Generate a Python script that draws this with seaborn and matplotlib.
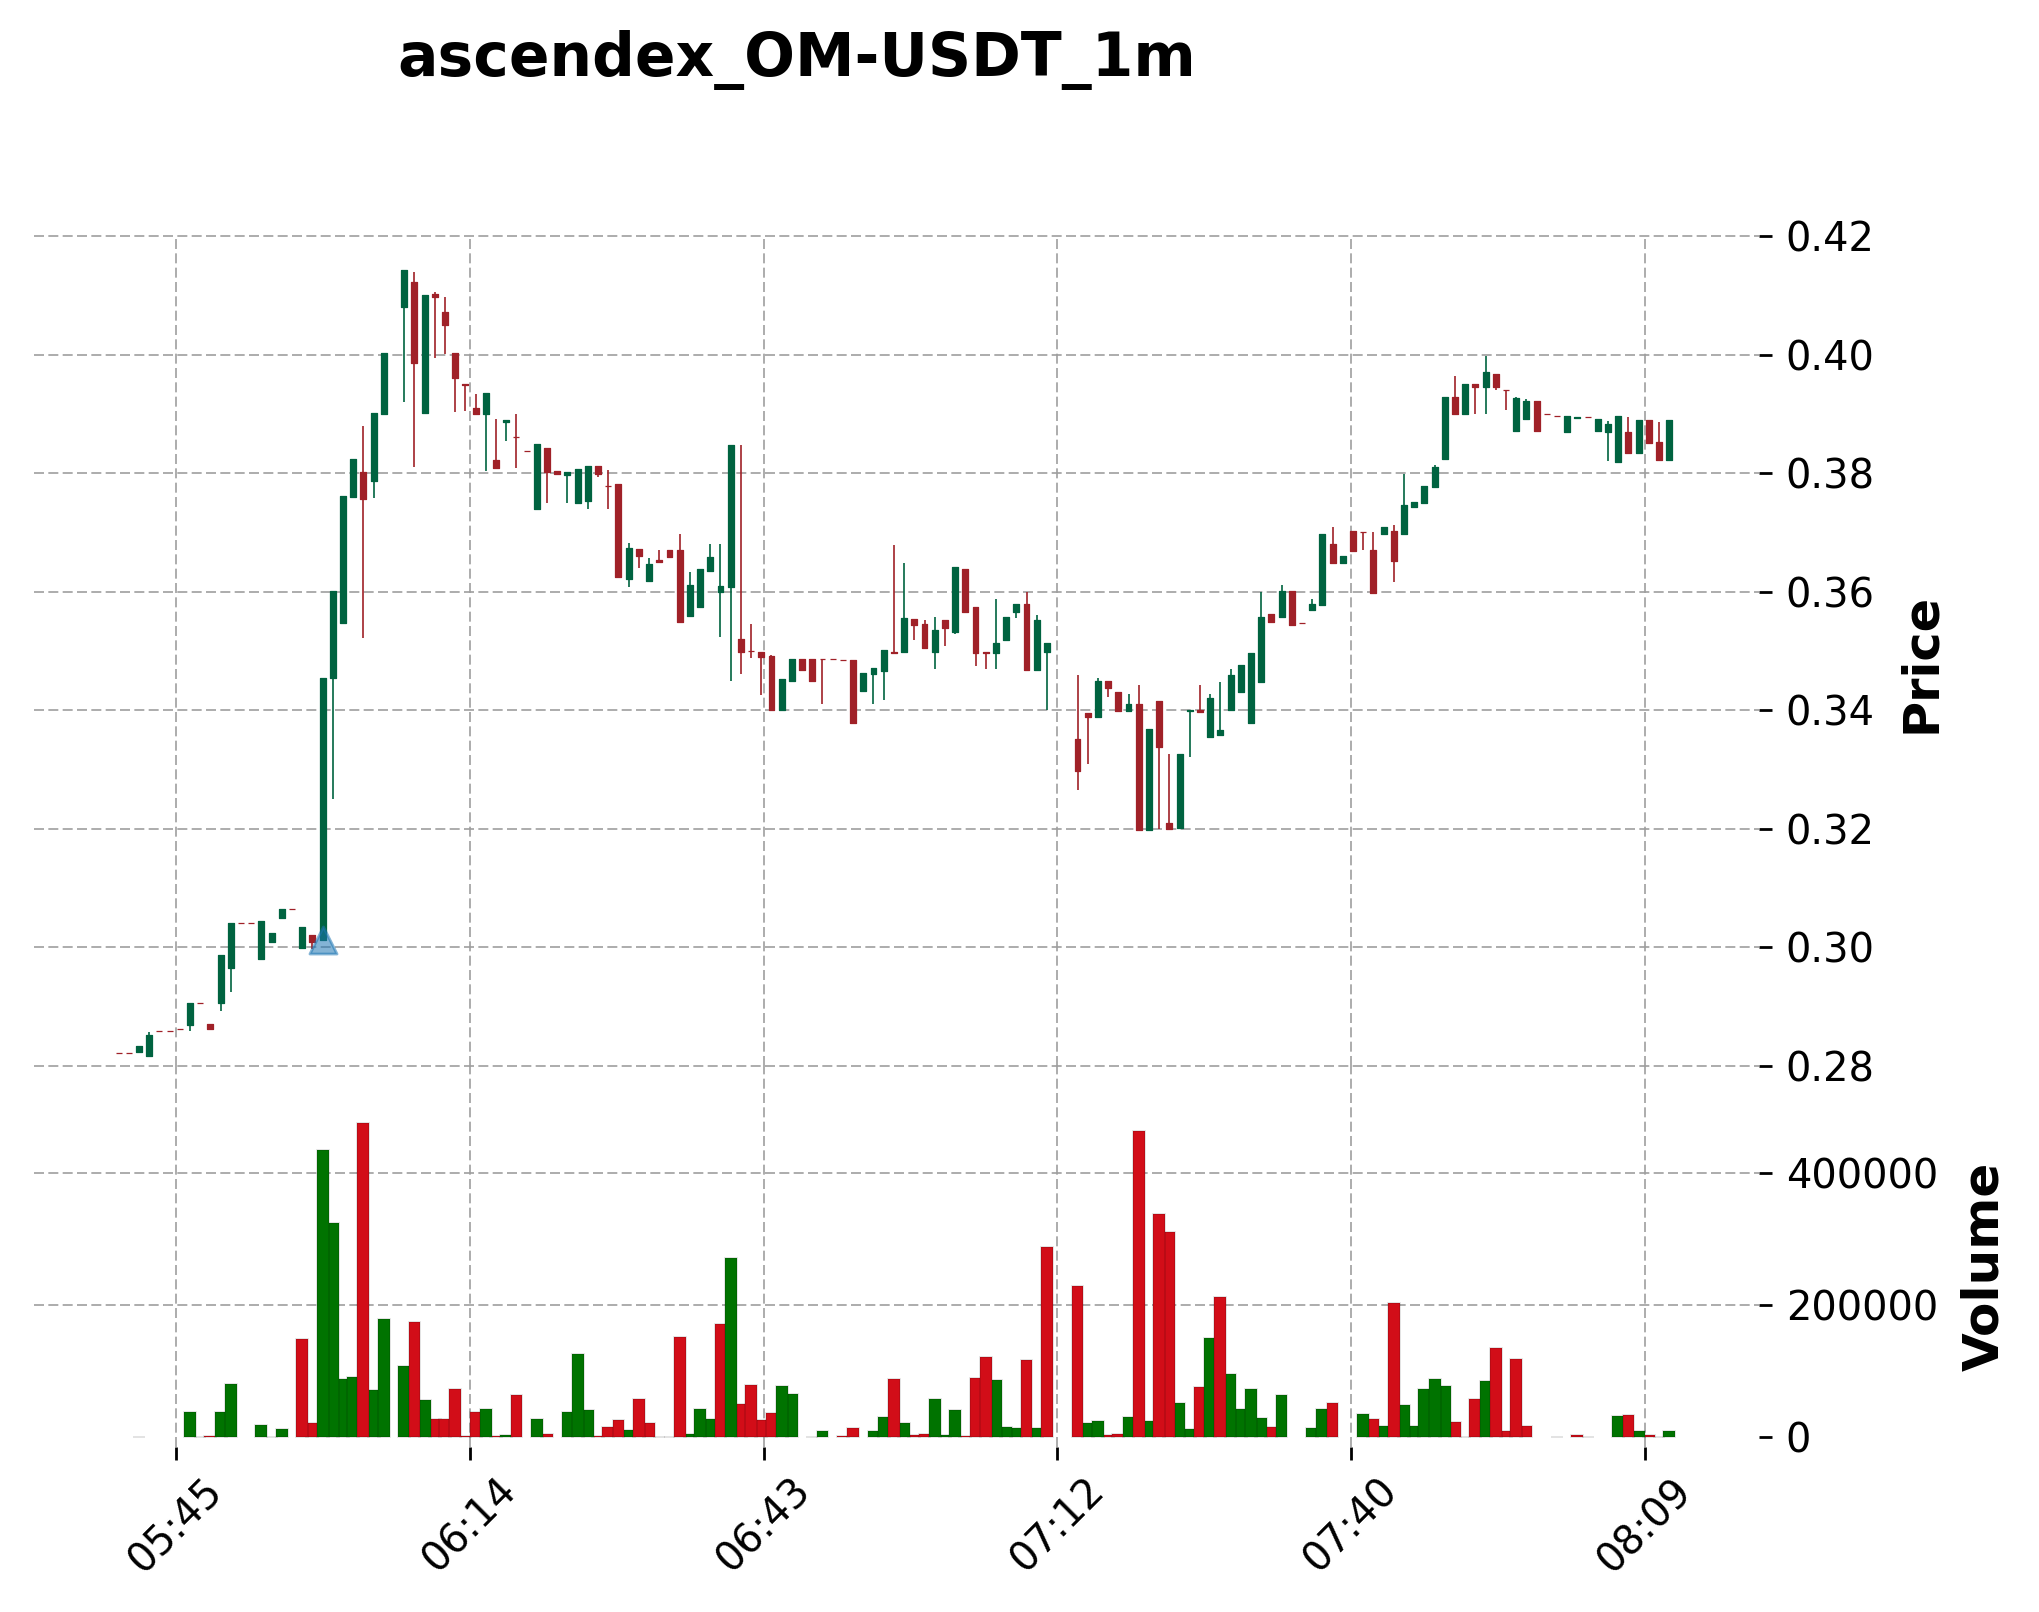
import numpy as np
import pandas as pd
import matplotlib
matplotlib.use("Agg")
import matplotlib.pyplot as plt
import seaborn as sns

# --- data, one slot per minute, nan where nothing traded ---
nan = float("nan")

opens = [
    .2822, .2822, .2824, .2817, .2859, .2859, .2862, .2870, .2907, .2871,
    .2907, .2965, .3041, .3041, .2981, .3009, .3049, .3065, .2999, .3021,
    .3012, .3454, .3548, .3760, .3802, .3786, .3900, nan, .4080, .4122,
    .3902, .4103, .4072, .4002, .3951, .3910, .3900, .3822, .3887, .3861,
    .3838, .3739, .3843, .3804, .3797, .3749, .3753, .3812, .3779, .3781,
    .3621, .3672, .3618, .3654, .3671, .3671, .3559, .3574, .3635, .3599,
    .3608, .3521, .3500, .3499, .3492, .3401, .3449, .3487, .3487, .3487,
    .3487, .3485, .3485, .3433, .3461, .3466, .3499, .3498, .3554, .3546,
    .3499, .3552, .3532, .3638, .3575, .3499, .3497, .3519, .3565, .3580,
    .3468, .3499, nan, nan, .3352, .3396, .3389, .3450, .3430, .3399,
    .3410, .3198, .3416, .3210, .3201, .3398, .3400, .3355, .3358, .3401,
    .3431, .3379, .3448, .3563, .3558, .3601, .3548, .3570, .3577, .3680,
    .3649, .3702, .3701, .3671, .3698, .3702, .3698, .3743, .3750, .3777,
    .3824, .3929, .3900, .3950, .3946, .3968, .3941, .3871, .3892, .3921,
    .3900, .3897, .3870, .3893, .3894, .3871, .3870, .3819, .3870, .3834,
    .3889, .3852, .3823,
]
closes = [
    .2822, .2822, .2834, .2853, .2859, .2859, .2862, .2907, .2907, .2863,
    .2987, .3041, .3041, .3041, .3045, .3025, .3065, .3065, .3035, .3009,
    .3455, .3601, .3761, .3824, .3756, .3901, .4002, nan, .4142, .3986,
    .4101, .4097, .4050, .3960, .3949, .3900, .3935, .3808, .3889, .3861,
    .3838, .3849, .3802, .3799, .3802, .3807, .3812, .3798, .3779, .3625,
    .3674, .3660, .3647, .3650, .3658, .3549, .3612, .3639, .3659, .3610,
    .3848, .3498, .3500, .3490, .3401, .3452, .3487, .3468, .3449, .3487,
    .3487, .3485, .3379, .3463, .3472, .3501, .3497, .3556, .3544, .3505,
    .3535, .3539, .3641, .3566, .3497, .3497, .3514, .3557, .3580, .3468,
    .3552, .3513, nan, nan, .3297, .3389, .3450, .3438, .3399, .3410,
    .3198, .3369, .3338, .3200, .3327, .3400, .3397, .3420, .3367, .3460,
    .3477, .3496, .3557, .3549, .3601, .3544, .3548, .3579, .3698, .3649,
    .3661, .3669, .3701, .3598, .3710, .3651, .3747, .3751, .3779, .3811,
    .3929, .3900, .3950, .3946, .3971, .3946, .3941, .3927, .3921, .3871,
    .3900, .3897, .3896, .3894, .3894, .3891, .3883, .3896, .3834, .3889,
    .3850, .3823, .3889,
]
highs = [
    .2822, .2822, .2834, .2858, .2859, .2859, .2862, .2907, .2907, .2871,
    .2987, .3041, .3041, .3041, .3045, .3025, .3065, .3065, .3035, .3021,
    .3455, .3601, .3761, .3824, .3880, .3901, .4002, nan, .4142, .4140,
    .4101, .4106, .4097, .4002, .3951, .3933, .3935, .3892, .3889, .3900,
    .3838, .3849, .3843, .3804, .3802, .3807, .3812, .3812, .3806, .3781,
    .3683, .3672, .3657, .3671, .3671, .3698, .3634, .3639, .3681, .3681,
    .3848, .3847, .3546, .3499, .3494, .3452, .3487, .3487, .3487, .3487,
    .3487, .3485, .3485, .3463, .3472, .3501, .3678, .3649, .3554, .3553,
    .3558, .3552, .3641, .3638, .3575, .3499, .3588, .3557, .3580, .3599,
    .3560, .3513, nan, nan, .3459, .3396, .3455, .3450, .3430, .3428,
    .3442, .3369, .3416, .3327, .3327, .3400, .3442, .3428, .3448, .3470,
    .3477, .3496, .3599, .3563, .3611, .3601, .3548, .3587, .3698, .3710,
    .3661, .3702, .3701, .3701, .3710, .3712, .3798, .3751, .3779, .3813,
    .3929, .3964, .3950, .3950, .3997, .3968, .3941, .3928, .3925, .3921,
    .3900, .3897, .3896, .3894, .3894, .3891, .3888, .3896, .3894, .3889,
    .3889, .3886, .3889,
]
lows = [
    .2822, .2822, .2824, .2817, .2859, .2859, .2862, .2859, .2907, .2863,
    .2893, .2924, .3041, .3041, .2981, .3009, .3049, .3065, .2999, .2998,
    .3012, .3250, .3548, .3760, .3522, .3758, .3900, nan, .3920, .3810,
    .3902, .3994, .4001, .3903, .3904, .3900, .3804, .3808, .3855, .3808,
    .3838, .3739, .3749, .3799, .3749, .3749, .3740, .3793, .3740, .3625,
    .3608, .3640, .3618, .3650, .3658, .3549, .3559, .3574, .3635, .3524,
    .3449, .3461, .3488, .3425, .3401, .3401, .3449, .3468, .3449, .3411,
    .3487, .3485, .3379, .3433, .3411, .3417, .3497, .3498, .3519, .3505,
    .3469, .3509, .3529, .3566, .3475, .3469, .3469, .3519, .3556, .3468,
    .3468, .3401, nan, nan, .3265, .3310, .3389, .3422, .3399, .3399,
    .3198, .3198, .3199, .3200, .3201, .3321, .3397, .3355, .3358, .3401,
    .3431, .3379, .3448, .3549, .3558, .3544, .3548, .3570, .3577, .3649,
    .3649, .3669, .3671, .3598, .3698, .3617, .3698, .3743, .3750, .3777,
    .3824, .3900, .3900, .3900, .3900, .3940, .3907, .3869, .3892, .3871,
    .3900, .3897, .3870, .3893, .3894, .3871, .3820, .3819, .3834, .3834,
    .3850, .3823, .3823,
]
volumes = [
    nan, nan, 1000, nan, nan, nan, nan, 38700, 1000, 2500,
    38700, 81500, nan, nan, 19400, 1000, 12700, nan, 148800, 21900,
    434700, 324600, 89200, 92200, 476500, 71300, 179400, nan, 107500, 174800,
    57100, 28000, 28000, 73900, 2500, 38700, 43300, 2000, 4100, 64700,
    nan, 28000, 5100, nan, 38700, 125900, 41800, 2000, 15800, 26500,
    11200, 58600, 21900, 1000, 1000, 151900, 5100, 43300, 28000, 171700,
    271100, 51000, 80000, 26500, 37200, 78500, 66200, nan, 1000, 9700,
    nan, 2500, 14300, nan, 9700, 31100, 89200, 21900, 3600, 5100,
    58600, 3600, 41800, 2500, 90700, 121300, 87700, 15800, 14300, 116700,
    14300, 287900, nan, nan, 229800, 21900, 25000, 3600, 5100, 31100,
    463700, 25000, 338400, 310900, 52500, 12700, 76900, 150300, 213000, 95300,
    43300, 73900, 29600, 15800, 64700, nan, nan, 14300, 43300, 52500,
    nan, nan, 35700, 28000, 17300, 203800, 49400, 17300, 73900, 89200,
    78500, 23400, 1000, 58600, 86100, 135000, 9700, 118200, 17300, nan,
    nan, 1000, nan, 3600, 1000, nan, nan, 32600, 34100, 9700,
    3600, 1000, 9700,
]
# colour of each volume bar, it does not always follow the candle
volume_sides = list(
    "..g....grr" "gg..grg.rr" "ggggrgg.gr" "grrrrrgrgr" ".gr.gggrrr"
    "grrggrgggr" "grrrrgg.rg" ".rr.ggrgrr" "gggrrrgggr" "gr..rggrrg"
    "rgrrggrgrg" "gggrg..ggr" "..grgrgggg" "grgrgrrrr." ".r.rr..grg"
    "rrg"
)
entry_x = [20.07]
entry_price = [0.3012]

tick_positions = [5.63, 34.43, 63.23, 92.03, 120.83, 149.63]
tick_labels = ["05:45", "06:14", "06:43", "07:12", "07:40", "08:09"]
price_ticks = [0.28, 0.30, 0.32, 0.34, 0.36, 0.38, 0.40, 0.42]
volume_ticks = [0, 200000, 400000]

GREEN = "#006340"
RED = "#A02128"
VOL_GREEN = "#007300"
VOL_RED = "#D20D18"
GRID = "#9E9E9E"
W, H = 2040, 1612


def panel(left, top, right, bottom):
    """Axes from pixel edges of the picture."""
    return [left / W, 1 - bottom / H, (right - left) / W, (bottom - top) / H]


def style_axis(ax):
    ax.patch.set_visible(False)
    ax.grid(True, color=GRID, linewidth=0.6, linestyle=(0, (6, 2.6)))
    ax.set_axisbelow(True)
    sns.despine(ax=ax, left=True, right=True, top=True, bottom=True)
    ax.yaxis.tick_right()
    ax.set_xlim(-8.29, 160.8)
    ax.set_xticks(tick_positions)
    ax.tick_params(axis="y", length=4.6, width=1.0, labelsize=14.4, pad=5, right=True, left=False)


def draw_candles(ax, df):
    df = df.dropna(subset=["open"])
    up = df["close"] > df["open"]
    colors = np.where(up, GREEN, RED)
    ax.vlines(df["x"], df["low"], df["high"], colors=colors, linewidth=0.6, zorder=3)
    ax.bar(
        df["x"], (df["close"] - df["open"]).abs(), bottom=df[["open", "close"]].min(axis=1),
        width=0.58, color=colors, edgecolor=colors, linewidth=0.45, joinstyle="round", zorder=3,
    )


def draw_volume(ax, df):
    df = df.dropna(subset=["volume"])
    sns.barplot(
        data=df, x="x", y="volume", hue="side", hue_order=["g", "r"],
        palette={"g": VOL_GREEN, "r": VOL_RED}, native_scale=True, dodge=False,
        width=1.16, saturation=1, legend=False, ax=ax,
        edgecolor="#00000022", linewidth=0.6,
    )
    # taller bars sit on top of their neighbours
    for bar in ax.patches:
        bar.set_zorder(2 + bar.get_height() / 1e6)


def main():
    sns.set_theme(style="white")
    plt.rcParams["font.family"] = ["DejaVu Sans"]
    plt.rcParams["text.color"] = "black"
    plt.rcParams["xtick.color"] = "black"
    plt.rcParams["ytick.color"] = "black"
    plt.rcParams["axes.labelcolor"] = "black"

    df = pd.DataFrame({
        "x": np.arange(len(opens)), "open": opens, "close": closes,
        "high": highs, "low": lows, "volume": volumes, "side": volume_sides,
    })

    fig = plt.figure(figsize=(W / 200, H / 200), dpi=200)
    ax_price = fig.add_axes(panel(34, 236, 1759, 1066))
    ax_vol = fig.add_axes(panel(34, 1066, 1759, 1447))

    draw_candles(ax_price, df)
    sns.scatterplot(
        x=entry_x, y=entry_price, marker="^", s=95, color="#1F77B4", alpha=0.55,
        edgecolor="#1F77B4", linewidth=1.0, zorder=5, ax=ax_price, legend=False,
    )
    draw_volume(ax_vol, df)

    for ax in (ax_price, ax_vol):
        style_axis(ax)

    ax_price.set_ylim(0.28, 0.42)
    ax_price.set_yticks(price_ticks)
    ax_price.set_yticklabels([f"{t:.2f}" for t in price_ticks])
    ax_price.tick_params(axis="x", length=0, labelbottom=False)
    ax_price.set_xlabel("")
    # the edge lines sit half outside the axes
    for line in ax_price.get_ygridlines():
        line.set_clip_on(False)

    ax_vol.set_ylim(-14400, 562000)
    ax_vol.set_yticks(volume_ticks)
    ax_vol.set_yticklabels([str(t) for t in volume_ticks])
    ax_vol.set_xticklabels(tick_labels, rotation=45, fontsize=14.4, ha="center", rotation_mode="default")
    ax_vol.tick_params(axis="x", length=4.6, width=1.0, pad=4, bottom=True)
    ax_vol.set_xlabel("")
    # no line along the zero of the volume panel
    ax_vol.get_ygridlines()[0].set_visible(False)

    ax_price.set_ylabel("Price", fontsize=17.8, fontweight="bold")
    ax_price.yaxis.set_label_position("right")
    ax_price.yaxis.set_label_coords((1897 - 34) / 1725, 1 - (663 - 236) / 830)
    ax_vol.set_ylabel("Volume", fontsize=18, fontweight="bold")
    ax_vol.yaxis.set_label_position("right")
    ax_vol.yaxis.set_label_coords((1960 - 34) / 1725, 1 - (1266 - 1066) / 381)

    fig.text(797 / W, 1 - 60 / H, "ascendex_OM-USDT_1m", fontsize=21.55, fontweight="bold",
             ha="center", va="center")

    fig.savefig("out.png", dpi=200)


if __name__ == "__main__":
    main()
